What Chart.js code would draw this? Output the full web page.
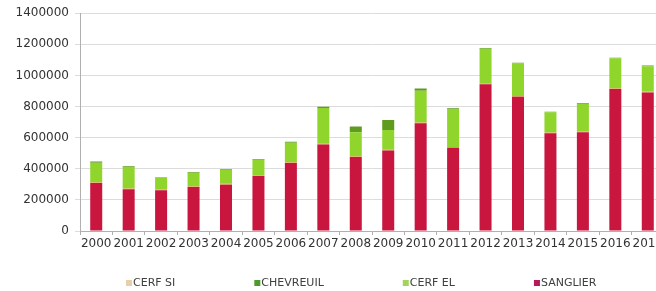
<!DOCTYPE html>
<html>
<head>
<meta charset="utf-8">
<script src="https://cdn.jsdelivr.net/npm/chart.js@4.4.1/dist/chart.umd.min.js"></script>
<style>
  html, body { margin: 0; padding: 0; background: #fff; overflow: hidden; }
  #wrap { width: 666px; height: 291px; }
</style>
</head>
<body>
<div id="wrap"><canvas id="huntChart" width="666" height="291"></canvas></div>
<script>
// Years on the x axis
const years = ['2000', '2001', '2002', '2003', '2004', '2005', '2006', '2007', '2008',
  '2009', '2010', '2011', '2012', '2013', '2014', '2015', '2016', '2017'];

// Series values
const sanglier = [309000, 268000, 262000, 283000, 298000, 354000, 437000, 556000, 475000,
  518000, 693000, 535000, 944000, 863000, 628000, 635000, 912000, 891000];
const cerfSi = [5000, 5000, 4000, 5000, 5000, 5000, 5000, 5000, 5000,
  5000, 5000, 5000, 5000, 5000, 5000, 5000, 5000, 5000];
const cerfEl = [125000, 138000, 76000, 87000, 91000, 99000, 125000, 230000, 155000,
  127000, 203000, 244000, 223000, 208000, 130000, 176000, 193000, 163000];
const chevreuil = [8000, 6000, 3000, 5000, 5000, 5000, 6000, 8000, 36000,
  64000, 15000, 5000, 5000, 5000, 4000, 5000, 4000, 5000];

// y axis ticks
const yTicks = [0, 200000, 400000, 600000, 800000, 1000000, 1200000, 1400000];

// legend order differs from stacking order
const legendOrder = ['CERF SI', 'CHEVREUIL', 'CERF EL', 'SANGLIER'];

const FONT = 'DejaVu Sans';

// simple legend drawn under the axis, spaced like the original
const bottomLegend = {
  id: 'bottomLegend',
  afterDraw(chart) {
    const ctx = chart.ctx;
    ctx.save();
    ctx.font = '11px "' + FONT + '"';
    ctx.textBaseline = 'middle';
    ctx.textAlign = 'left';
    let x = 126;
    const y = 283;
    legendOrder.forEach(name => {
      const ds = chart.data.datasets.find(d => d.label === name);
      ctx.fillStyle = ds.legendColor || ds.backgroundColor;
      ctx.fillRect(x, y - 3, 6, 6);
      ctx.fillStyle = '#404040';
      ctx.fillText(name, x + 7, y);
      x += 7 + ctx.measureText(name).width + 79;
    });
    ctx.restore();
  }
};

new Chart(
  document.getElementById('huntChart'),
  {
    type: 'bar',
    data: {
      labels: years,
      datasets: [
        { label: 'SANGLIER', data: sanglier, backgroundColor: '#c8163f', legendColor: '#b8195a' },
        { label: 'CERF SI', data: cerfSi, backgroundColor: '#e2a45a', legendColor: '#e9cfa8' },
        { label: 'CERF EL', data: cerfEl, backgroundColor: '#8fd52c', legendColor: '#a5d45c' },
        { label: 'CHEVREUIL', data: chevreuil, backgroundColor: '#5e9b1e', legendColor: '#4f9a2c' }
      ]
    },
    options: {
      responsive: false,
      animation: false,
      devicePixelRatio: 1,
      datasets: {
        bar: { barPercentage: 0.37, categoryPercentage: 1 }
      },
      layout: { padding: { top: 11, right: 2, bottom: 40, left: 0 } },
      plugins: {
        legend: { display: false },
        tooltip: { enabled: false }
      },
      scales: {
        x: {
          stacked: true,
          grid: { drawOnChartArea: false, color: '#b0b0b0', tickLength: 4 },
          border: { color: '#b0b0b0' },
          ticks: {
            color: '#333',
            font: { family: FONT, size: 12 },
            maxRotation: 0,
            autoSkip: false,
            padding: 2
          },
          afterFit(scale) { scale.height = 20; }
        },
        y: {
          stacked: true,
          min: 0,
          max: 1400000,
          afterBuildTicks(scale) { scale.ticks = yTicks.map(v => ({ value: v })); },
          grid: { color: '#dcdcdc', tickLength: 5 },
          border: { color: '#b0b0b0' },
          ticks: {
            color: '#333',
            font: { family: FONT, size: 12 },
            padding: 6,
            callback: v => String(v)
          },
          afterFit(scale) { scale.width = 80; }
        }
      }
    },
    plugins: [bottomLegend]
  }
);
</script>
</body>
</html>
